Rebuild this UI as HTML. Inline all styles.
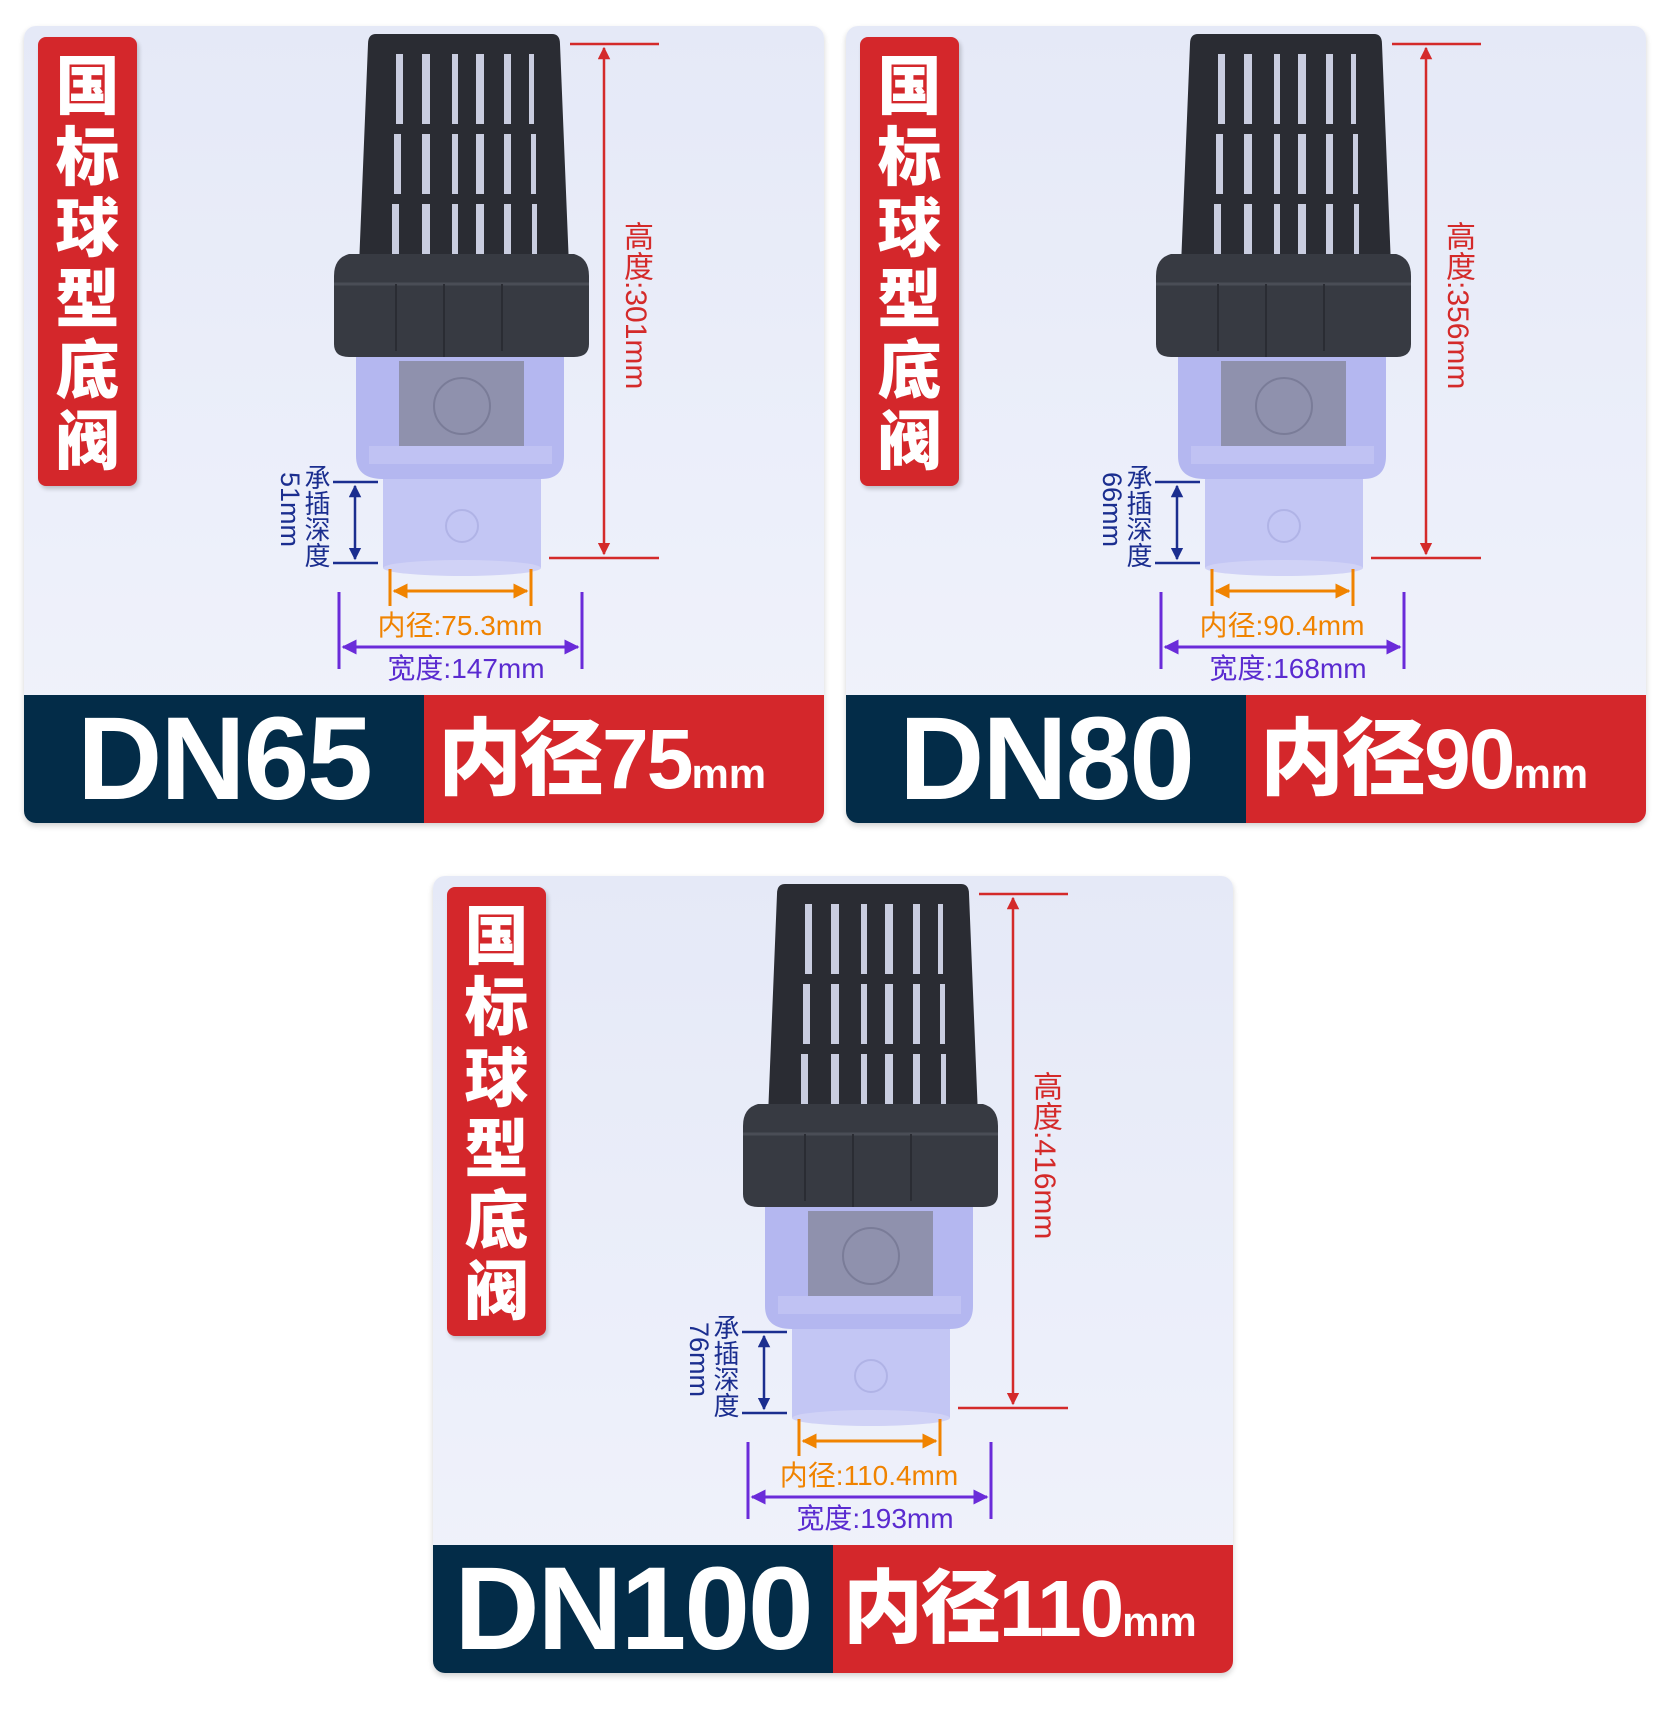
<!DOCTYPE html>
<html><head><meta charset="utf-8">
<style>
*{margin:0;padding:0;box-sizing:border-box}
body{width:1670px;height:1715px;background:#fff;position:relative;overflow:hidden;font-family:"Liberation Sans","Noto Sans CJK SC",sans-serif}
.card{position:absolute;width:800px;height:797px;border-radius:12px;overflow:hidden;background:linear-gradient(180deg,#e5e9f7 0%,#eceffa 60%,#f1f3fb 100%);box-shadow:0 3px 6px rgba(0,0,0,.18)}
.lbl{position:absolute;left:14px;top:11px;width:99px;height:449px;background:#d4272b;border-radius:8px;box-shadow:2px 3px 4px rgba(0,0,0,.2);color:#fff;font-family:"Noto Sans CJK SC",sans-serif;font-weight:900;font-size:64px;line-height:71px;text-align:center;padding-top:10px}
.svg{position:absolute;left:0;top:0}
.vt{position:absolute;writing-mode:vertical-rl;text-orientation:mixed;font-family:"Liberation Sans","Noto Sans CJK SC",sans-serif;white-space:nowrap}
.ht{color:#d42a2a;font-size:30px;left:589px;top:195px}
.dp{color:#1b2e8f;font-size:26px;line-height:27px;left:278px;top:438px}
.dp2{color:#1b2e8f;font-size:27px;left:250px;top:446px}
.t{position:absolute;white-space:nowrap;font-family:"Liberation Sans","Noto Sans CJK SC",sans-serif;font-size:28px;transform:translateX(-50%)}
.or{color:#f08300;top:578px;left:436px}
.pu{color:#5a2bd0;top:621px;left:442px}
.ban{position:absolute;left:0;top:669px;width:800px;height:128px}
.bl{position:absolute;left:0;top:0;width:400px;height:128px;background:#032c48;color:#fff;font-weight:bold;font-size:118px;line-height:128px;text-align:center;letter-spacing:-2px}
.br{position:absolute;left:400px;top:0;width:400px;height:128px;background:#d4272b;color:#fff;font-weight:900;font-size:84px;line-height:128px;padding-left:14px;white-space:nowrap;letter-spacing:-2px;font-family:"Liberation Sans","Noto Sans CJK SC",sans-serif}
.br small{font-size:42px;font-weight:bold;letter-spacing:0}
</style></head><body>

<svg width="0" height="0" style="position:absolute">
<defs>
<marker id="ar" viewBox="0 0 10 10" refX="9" refY="5" markerWidth="5" markerHeight="5" orient="auto-start-reverse"><path d="M0,0L10,5L0,10z" fill="context-stroke"/></marker>
<g id="valve">
 <rect x="359" y="450" width="158" height="92" fill="#c3c6f4"/>
 <ellipse cx="438" cy="542" rx="79" ry="8" fill="#d0d2f6"/>
 <circle cx="438" cy="500" r="16" fill="none" stroke="#b0b3e6" stroke-width="2"/>
 <path d="M332,328 L540,328 L540,430 Q540,453 517,453 L359,453 Q332,453 332,430z" fill="#b4b7f0"/>
 <rect x="375" y="335" width="125" height="85" fill="#8f91ad"/>
 <circle cx="438" cy="380" r="28" fill="none" stroke="#7a7c98" stroke-width="2"/>
 <rect x="345" y="420" width="183" height="18" fill="#c4c6f4" opacity=".7"/>
 <path d="M352,8 L528,8 Q536,8 536,18 L545,240 L335,240 L344,18 Q344,8 352,8z" fill="#2a2c33"/>
 <g fill="#c9cde0">
  <rect x="372" y="28" width="7" height="70"/><rect x="398" y="28" width="8" height="70"/><rect x="428" y="28" width="6" height="70"/><rect x="452" y="28" width="8" height="70"/><rect x="480" y="28" width="7" height="70"/><rect x="505" y="28" width="5" height="70"/>
  <rect x="370" y="108" width="7" height="60"/><rect x="398" y="108" width="8" height="60"/><rect x="428" y="108" width="6" height="60"/><rect x="452" y="108" width="8" height="60"/><rect x="480" y="108" width="7" height="60"/><rect x="507" y="108" width="5" height="60"/>
  <rect x="368" y="178" width="7" height="52"/><rect x="398" y="178" width="8" height="52"/><rect x="428" y="178" width="6" height="52"/><rect x="452" y="178" width="8" height="52"/><rect x="480" y="178" width="7" height="52"/><rect x="508" y="178" width="5" height="52"/>
 </g>
 <path d="M325,228 L550,228 Q565,232 565,250 L565,318 Q565,331 550,331 L325,331 Q310,331 310,318 L310,250 Q310,232 325,228z" fill="#373a42"/>
 <path d="M310,258 L565,258" stroke="#4a4d56" stroke-width="3"/>
 <path d="M372,258 L372,325 M478,258 L478,325 M420,258 L420,331" stroke="#2a2c33" stroke-width="2"/>
</g>
<g id="dims">
 <g stroke="#d42a2a" stroke-width="2.5" fill="none">
  <line x1="546" y1="18" x2="635" y2="18"/><line x1="525" y1="532" x2="635" y2="532"/>
  <line x1="580" y1="22" x2="580" y2="528" marker-start="url(#ar)" marker-end="url(#ar)"/>
 </g>
 <g stroke="#1b2e8f" stroke-width="2.5" fill="none">
  <line x1="309" y1="456" x2="354" y2="456"/><line x1="309" y1="537" x2="354" y2="537"/>
  <line x1="331" y1="460" x2="331" y2="533" marker-start="url(#ar)" marker-end="url(#ar)"/>
 </g>
 <g stroke="#f08300" stroke-width="3" fill="none">
  <line x1="366" y1="543" x2="366" y2="580"/><line x1="507" y1="543" x2="507" y2="580"/>
  <line x1="370" y1="565" x2="503" y2="565" marker-start="url(#ar)" marker-end="url(#ar)"/>
 </g>
 <g stroke="#6a2bd9" stroke-width="3" fill="none">
  <line x1="315" y1="566" x2="315" y2="643"/><line x1="558" y1="566" x2="558" y2="643"/>
  <line x1="319" y1="621" x2="554" y2="621" marker-start="url(#ar)" marker-end="url(#ar)"/>
 </g>
</g>
</defs></svg>

<div class="card" style="left:24px;top:26px">
 <svg class="svg" width="800" height="669"><use href="#valve"/><use href="#dims"/></svg>
 <div class="lbl">国<br>标<br>球<br>型<br>底<br>阀</div>
 <div class="vt ht">高度:301mm</div>
 <div class="vt dp">承插深度</div>
 <div class="vt dp2">51mm</div>
 <div class="t or">内径:75.3mm</div>
 <div class="t pu">宽度:147mm</div>
 <div class="ban"><div class="bl">DN65</div><div class="br">内径75<small>mm</small></div></div>
</div>

<div class="card" style="left:846px;top:26px">
 <svg class="svg" width="800" height="669"><use href="#valve"/><use href="#dims"/></svg>
 <div class="lbl">国<br>标<br>球<br>型<br>底<br>阀</div>
 <div class="vt ht">高度:356mm</div>
 <div class="vt dp">承插深度</div>
 <div class="vt dp2">66mm</div>
 <div class="t or">内径:90.4mm</div>
 <div class="t pu">宽度:168mm</div>
 <div class="ban"><div class="bl">DN80</div><div class="br">内径90<small>mm</small></div></div>
</div>

<div class="card" style="left:433px;top:876px">
 <svg class="svg" width="800" height="669"><use href="#valve"/><use href="#dims"/></svg>
 <div class="lbl">国<br>标<br>球<br>型<br>底<br>阀</div>
 <div class="vt ht">高度:416mm</div>
 <div class="vt dp">承插深度</div>
 <div class="vt dp2">76mm</div>
 <div class="t or">内径:110.4mm</div>
 <div class="t pu">宽度:193mm</div>
 <div class="ban"><div class="bl">DN100</div><div class="br" style="font-size:80px;padding-left:10px">内径110<small>mm</small></div></div>
</div>

</body></html>
